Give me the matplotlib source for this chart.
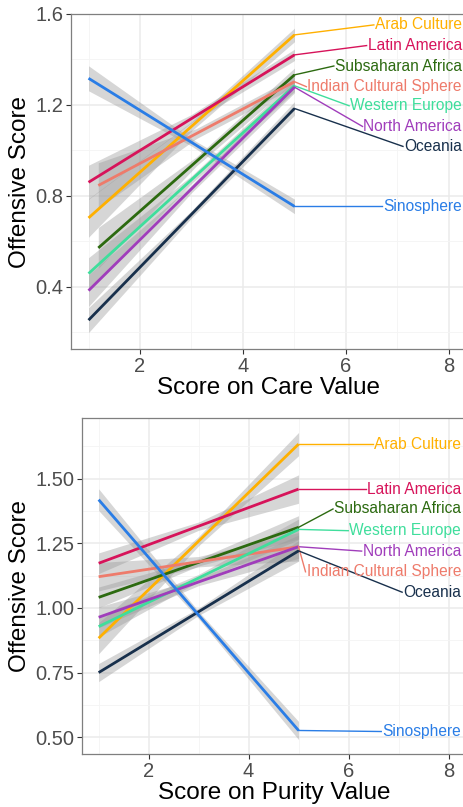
import numpy as np
import matplotlib
matplotlib.use("Agg")
import matplotlib.pyplot as plt

plt.rcParams['font.family'] = ['Liberation Sans', 'DejaVu Sans']

# ---- dados ----
regioes = ["Arab Culture", "Latin America", "Subsaharan Africa", "Indian Cultural Sphere",
           "Western Europe", "North America", "Oceania", "Sinosphere"]
cores = ["#FFB000", "#D7135A", "#2C6A10", "#EE7B6B", "#3FDE9C", "#A03DBB", "#18304C", "#2A7DE6"]

# painel Care: inicio/fim de cada reta (x, y)
care_x0 = [1.0, 1.0, 1.19, 1.19, 1.0, 1.0, 1.0, 1.0]
care_x1 = [5, 5, 5, 5, 5, 5, 5, 5]
care_y0 = [0.702, 0.859, 0.570, 0.845, 0.457, 0.382, 0.252, 1.317]
care_y1 = [1.508, 1.420, 1.332, 1.302, 1.284, 1.278, 1.184, 0.753]
# meia-largura da banda de confiança (inicio, meio, fim)
care_se0 = [0.085, 0.075, 0.090, 0.100, 0.070, 0.070, 0.055, 0.055]
care_sem = [0.020, 0.018, 0.020, 0.022, 0.017, 0.017, 0.016, 0.016]
care_se1 = [0.030, 0.025, 0.030, 0.022, 0.025, 0.025, 0.030, 0.032]
care_lab_y = [1.552, 1.461, 1.371, 1.280, 1.196, 1.105, 1.017, 0.753]

# painel Purity
pur_x0 = [1.0] * 8
pur_x1 = [5] * 8
pur_y0 = [0.883, 1.173, 1.041, 1.121, 0.928, 0.964, 0.750, 1.419]
pur_y1 = [1.634, 1.460, 1.312, 1.237, 1.304, 1.237, 1.221, 0.526]
pur_se0 = [0.060, 0.040, 0.040, 0.055, 0.040, 0.040, 0.035, 0.042]
pur_sem = [0.018, 0.016, 0.014, 0.020, 0.014, 0.014, 0.014, 0.014]
pur_se1 = [0.045, 0.055, 0.045, 0.055, 0.040, 0.045, 0.040, 0.035]
pur_lab_y = [1.634, 1.460, 1.383, 1.299, 1.220, 1.140, 1.061, 0.522]
# ordem vertical dos rotulos no painel purity
pur_lab_ordem = ["Arab Culture", "Latin America", "Subsaharan Africa", "Western Europe",
                 "North America", "Indian Cultural Sphere", "Oceania", "Sinosphere"]

W, H = 464, 807
fig = plt.figure(figsize=(W / 100, H / 100), dpi=100)


def painel(ax_px, xlim, ylim, yticks, yfmt, x0, x1, y0, y1, se0, sem, se1, lab_y, ordem, xlabel):
    l, t, r, b = ax_px
    ax = fig.add_axes([l / W, 1 - b / H, (r - l) / W, (b - t) / H])
    ax.set_xticks([2, 4, 6, 8])
    ax.set_xticks([1, 3, 5, 7], minor=True)
    ax.set_yticks(yticks)
    step = yticks[1] - yticks[0]
    ax.set_yticks([v - step / 2 for v in yticks] + [yticks[-1] + step / 2], minor=True)
    ax.set_yticklabels([yfmt.format(v) for v in yticks])
    ax.set_xlim(*xlim)
    ax.set_ylim(*ylim)
    ax.grid(which="major", color="#EBEBEB", lw=1.1, zorder=0)
    ax.grid(which="minor", color="#F4F4F4", lw=0.6, zorder=0)
    ax.set_axisbelow(True)
    for s in ["left", "bottom", "top", "right"]:
        ax.spines[s].set_color("#7F7F7F")
        ax.spines[s].set_linewidth(0.9)
    ax.tick_params(which="major", length=3.5, color="#333333", width=0.8,
                   labelsize=14.5, labelcolor="#4D4D4D", pad=2)
    ax.tick_params(which="minor", length=0)
    ax.set_xlabel(xlabel, fontsize=17.5, color="black", labelpad=1)
    ax.set_ylabel("Offensive Score", fontsize=17.5, color="black", labelpad=3)

    # bandas
    for i in range(len(regioes)):
        xm = (x0[i] + x1[i]) / 2
        ym = (y0[i] + y1[i]) / 2
        xs = [x0[i], xm, x1[i]]
        ys = [y0[i], ym, y1[i]]
        hs = [se0[i], sem[i], se1[i]]
        ax.fill_between(xs, [a - h for a, h in zip(ys, hs)], [a + h for a, h in zip(ys, hs)],
                        color="#999999", alpha=0.4, lw=0, zorder=2)
    for i in range(len(regioes)):
        ax.plot([x0[i], x1[i]], [y0[i], y1[i]], color=cores[i], lw=2.0, zorder=3,
                solid_capstyle="butt")

    # rotulos
    textos = []
    for i, nome in enumerate(ordem):
        k = regioes.index(nome)
        tx = ax.text(8.25, lab_y[i], nome, color=cores[k], fontsize=11.2,
                     ha="right", va="center", zorder=5)
        textos.append((k, tx))
    fig.canvas.draw()
    rend = fig.canvas.get_renderer()
    inv = ax.transData.inverted()
    for k, tx in textos:
        bb = tx.get_window_extent(rend)
        xl, _ = inv.transform((bb.x0 - 1, (bb.y0 + bb.y1) / 2))
        yl = tx.get_position()[1]
        ax.plot([x1[k], xl], [y1[k], yl], color=cores[k], lw=1.0, zorder=4)
    ax.set_xlim(*xlim)
    ax.set_ylim(*ylim)
    return ax


ax1 = painel((71, 14, 467, 349), (0.66, 8.35), (0.125, 1.6), [0.4, 0.8, 1.2, 1.6], "{:.1f}",
             care_x0, care_x1, care_y0, care_y1, care_se0, care_sem, care_se1,
             care_lab_y, regioes, "Score on Care Value")
ax2 = painel((82, 418, 467, 754), (0.667, 8.37), (0.435, 1.735), [0.5, 0.75, 1.0, 1.25, 1.5], "{:.2f}",
             pur_x0, pur_x1, pur_y0, pur_y1, pur_se0, pur_sem, pur_se1,
             pur_lab_y, pur_lab_ordem, "Score on Purity Value")

fig.savefig("out.png", dpi=100)
